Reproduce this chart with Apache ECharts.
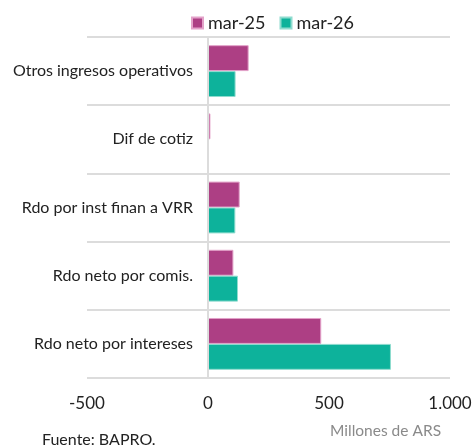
<!DOCTYPE html>
<html>
<head>
<meta charset="utf-8">
<script src="https://cdn.jsdelivr.net/npm/echarts@6/dist/echarts.min.js"></script>
<style>
  html, body { margin: 0; padding: 0; background: #fff; }
  #chart { width: 476px; height: 448px; }
</style>
</head>
<body>
<div id="chart"></div>
<script>
  // categorias de abajo hacia arriba
  var categories = ['Rdo neto por intereses', 'Rdo neto por comis.', 'Rdo por inst finan a VRR', 'Dif de cotiz', 'Otros ingresos operativos'];
  var mar25 = [468, 105, 131, 10, 168];
  var mar26 = [756, 124, 113, 0, 114];
  var xTicks = [-500, 0, 500, 1000];

  var font = 'Lato';
  var chart = echarts.init(document.getElementById('chart'));

  var option = {
    animation: false,
    textStyle: { fontFamily: font },
    legend: {
      data: ['mar-25', 'mar-26'],
      left: 186,
      top: 9,
      itemWidth: 11,
      itemHeight: 11,
      itemGap: 14,
      icon: 'rect',
      textStyle: { fontSize: 18, color: '#222', fontFamily: font }
    },
    grid: {
      left: 87,
      right: 26,
      top: 37,
      bottom: 70,
      containLabel: false,
      outerBoundsMode: 'none'
    },
    xAxis: {
      type: 'value',
      min: xTicks[0],
      max: xTicks[xTicks.length - 1],
      interval: 500,
      axisLine: { show: false },
      axisTick: { show: false },
      splitLine: { show: false },
      axisLabel: {
        fontSize: 17,
        color: '#222',
        margin: 17,
        formatter: function (v) {
          return String(v).replace(/\B(?=(\d{3})+(?!\d))/g, '.');
        }
      }
    },
    yAxis: {
      type: 'category',
      data: categories,
      z: 5,
      axisLine: { show: true, onZero: true, lineStyle: { color: '#dcdcdc', width: 2 } },
      axisTick: { show: false },
      splitLine: { show: true, lineStyle: { color: '#dcdcdc', width: 2 } },
      axisLabel: { fontSize: 16, color: '#222', margin: -106, align: 'right' }
    },
    series: [
      {
        name: 'mar-25',
        type: 'bar',
        data: mar25,
        barGap: '0%',
        barCategoryGap: '24%',
        itemStyle: { color: '#ad3f84', borderColor: '#e3a2c9', borderWidth: 1 }
      },
      {
        name: 'mar-26',
        type: 'bar',
        data: mar26,
        barGap: '0%',
        barCategoryGap: '24%',
        itemStyle: { color: '#0db29b', borderColor: '#8fdccf', borderWidth: 1 }
      }
    ],
    graphic: [
      {
        type: 'text',
        left: 330,
        top: 423,
        style: { text: 'Millones de ARS', fontFamily: font, fontSize: 15.5, fill: '#8a8a8a' }
      },
      {
        type: 'text',
        left: 42,
        top: 432,
        style: { text: 'Fuente: BAPRO.', fontFamily: font, fontSize: 16, fill: '#222' }
      }
    ]
  };

  chart.setOption(option);
</script>
</body>
</html>
